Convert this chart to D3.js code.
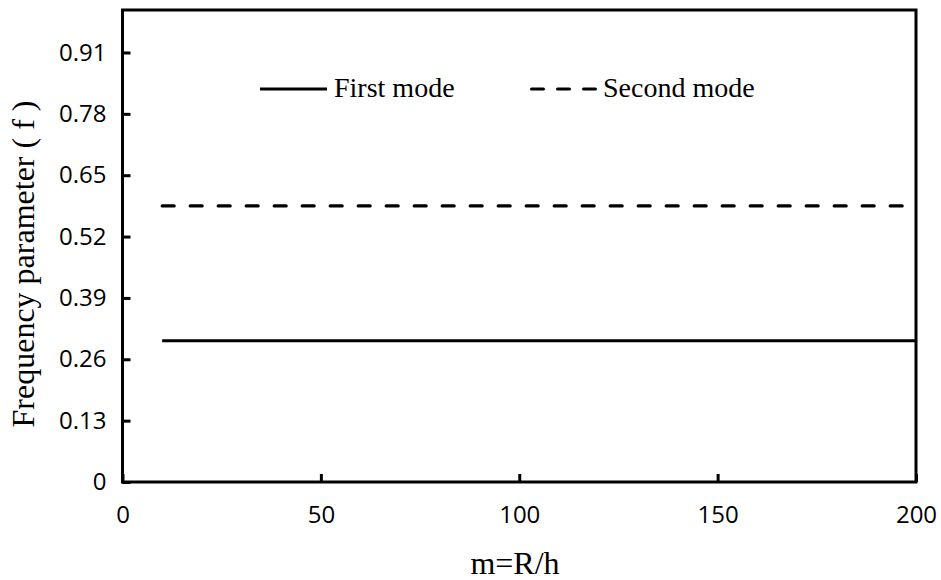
<!DOCTYPE html>
<html>
<head>
<meta charset="utf-8">
<script src="https://cdn.jsdelivr.net/npm/d3@7"></script>
<style>
  html, body { margin: 0; padding: 0; background: #fff; }
  .title { font-family: 'Liberation Serif', 'Times New Roman', serif; fill: #000; }
</style>
</head>
<body>
<div id="chart"></div>
<script>
// m = R/h values and frequency parameter for each mode
const mValues = [10, 25, 50, 75, 100, 125, 150, 175, 200];
const firstMode = [0.299, 0.299, 0.299, 0.299, 0.299, 0.299, 0.299, 0.299, 0.299];
const secondMode = [0.585, 0.585, 0.585, 0.585, 0.585, 0.585, 0.585, 0.585, 0.585];
const xTicks = [0, 50, 100, 150, 200];
const yTicks = [0, 0.13, 0.26, 0.39, 0.52, 0.65, 0.78, 0.91];
const seriesNames = ['First mode', 'Second mode'];

document.addEventListener('DOMContentLoaded', () => {
  const width = 941;
  const height = 580;
  const margin = { top: 10, right: 25, bottom: 98, left: 122.5 };

  const svg = d3.select('#chart')
                .append('svg')
                .attr('width', width)
                .attr('height', height);

  const x = d3.scaleLinear()
              .domain([0, 200])
              .range([margin.left, width - margin.right]);

  const y = d3.scaleLinear()
              .domain([0, 1.0])
              .range([height - margin.bottom, margin.top]);

  // plot border
  svg.append('rect')
     .attr('x', x(0))
     .attr('y', y(1))
     .attr('width', x(200) - x(0))
     .attr('height', y(0) - y(1))
     .attr('fill', 'none')
     .attr('stroke', '#000')
     .attr('stroke-width', 3);

  const xAxis = svg.append('g')
                   .attr('transform', 'translate(0,' + y(0) + ')')
                   .call(d3.axisBottom(x).tickValues(xTicks).tickSizeInner(-8).tickSizeOuter(0).tickPadding(24));
  xAxis.select('.domain').remove();
  xAxis.selectAll('.tick line').attr('stroke-width', 3);

  const yAxis = svg.append('g')
                   .attr('transform', 'translate(' + x(0) + ',0)')
                   .call(d3.axisLeft(y).tickValues(yTicks).tickFormat(d => d === 0 ? '0' : d3.format('.2f')(d))
                                      .tickSizeInner(-8).tickSizeOuter(0).tickPadding(16));
  yAxis.select('.domain').remove();
  yAxis.selectAll('.tick line').attr('stroke-width', 3);

  [xAxis, yAxis].forEach(g => {
    g.attr('font-family', "'Open Sans', sans-serif").attr('font-size', 24);
    g.selectAll('.tick text')
     .attr('fill', '#000')
     .style('font-family', "'Open Sans', sans-serif")
     .style('font-size', '24px');
  });

  const line = d3.line()
                 .x((d, i) => x(mValues[i]))
                 .y(d => y(d));

  svg.append('path')
     .datum(firstMode)
     .attr('d', line)
     .attr('fill', 'none')
     .attr('stroke', '#000')
     .attr('stroke-width', 3);

  svg.append('path')
     .datum(secondMode)
     .attr('d', line)
     .attr('fill', 'none')
     .attr('stroke', '#000')
     .attr('stroke-width', 3.2)
     .attr('stroke-linecap', 'round')
     .attr('stroke-dasharray', '12,16');

  // legend
  const legendItems = [
    { name: seriesNames[0], x: 260, dash: null },
    { name: seriesNames[1], x: 530, dash: '12,14' }
  ];
  const legend = svg.selectAll('.legend')
                    .data(legendItems)
                    .enter()
                    .append('g')
                    .attr('class', 'legend')
                    .attr('transform', d => 'translate(' + d.x + ',89)');

  legend.append('line')
        .attr('x1', d => d.dash ? 1.5 : 0)
        .attr('x2', 67)
        .attr('stroke', '#000')
        .attr('stroke-width', 3)
        .attr('stroke-linecap', d => d.dash ? 'round' : 'butt')
        .attr('stroke-dasharray', d => d.dash);

  legend.append('text')
        .attr('class', 'title')
        .attr('x', d => d.dash ? 73 : 74)
        .attr('y', 8)
        .style('font-size', '28px')
        .text(d => d.name);

  svg.append('text')
     .attr('class', 'title')
     .attr('x', 515)
     .attr('y', 574)
     .attr('text-anchor', 'middle')
     .style('font-size', '32px')
     .text('m=R/h');

  svg.append('text')
     .attr('class', 'title')
     .attr('transform', 'translate(34,264) rotate(-90)')
     .attr('text-anchor', 'middle')
     .style('font-size', '32px')
     .text('Frequency parameter ( f )');
});
</script>
</body>
</html>
